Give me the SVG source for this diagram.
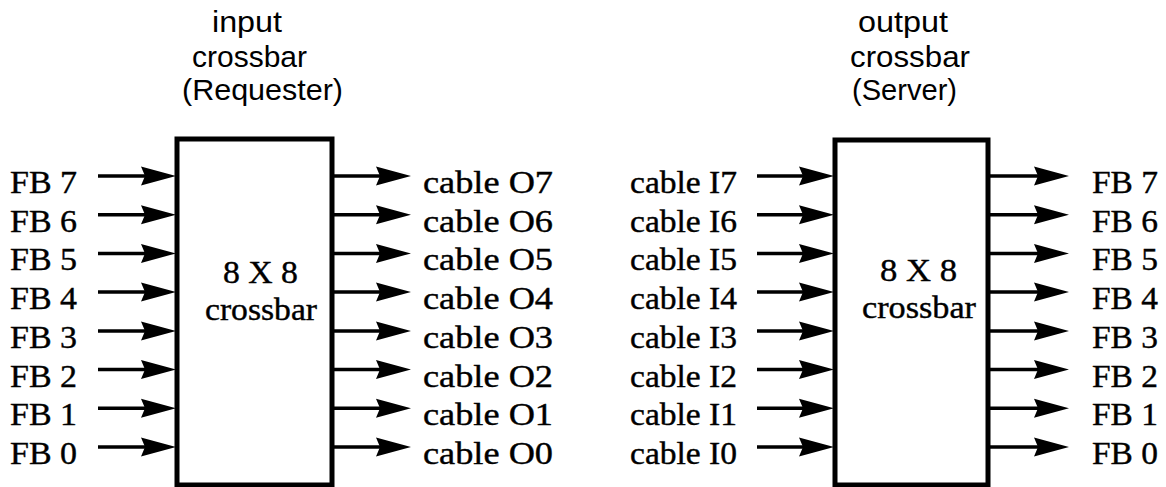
<svg xmlns="http://www.w3.org/2000/svg" width="1166" height="487" viewBox="0 0 1166 487">
<style>
.box{fill:#fff;stroke:#000;stroke-width:5}
.wire{stroke:#000;stroke-width:3.5;fill:none}
.serif{font-family:"Liberation Serif","Times New Roman",serif;font-size:32px;fill:#000;stroke:#000;stroke-width:0.4}
.sans{font-family:"Liberation Sans",Arial,sans-serif;font-size:29px;fill:#000}
</style>
<defs>
<marker id="ah" markerUnits="userSpaceOnUse" markerWidth="44" markerHeight="24" viewBox="-26 -12 44 24" refX="0" refY="0" orient="auto">
<path d="M15,0 L-20,-9.5 L-16,0 L-20,9.5 Z" fill="#000"/>
</marker>
</defs>
<rect width="1166" height="487" fill="#fff"/>

<g id="input-crossbar">
<rect class="box" x="177" y="139" width="155" height="346"/>
<text class="serif" x="223" y="283" textLength="75" lengthAdjust="spacingAndGlyphs">8 X 8</text>
<text class="serif" x="205" y="320" textLength="112" lengthAdjust="spacingAndGlyphs">crossbar</text>
</g>
<g id="input-title">
<text class="sans" x="212" y="32" textLength="70" lengthAdjust="spacingAndGlyphs">input</text>
<text class="sans" x="192" y="67" textLength="115" lengthAdjust="spacingAndGlyphs">crossbar</text>
<text class="sans" x="182" y="100" textLength="161" lengthAdjust="spacingAndGlyphs">(Requester)</text>
</g>

<g id="output-crossbar">
<rect class="box" x="835" y="140" width="153" height="345"/>
<text class="serif" x="880" y="281" textLength="77" lengthAdjust="spacingAndGlyphs">8 X 8</text>
<text class="serif" x="862" y="318" textLength="114" lengthAdjust="spacingAndGlyphs">crossbar</text>
</g>
<g id="output-title">
<text class="sans" x="858" y="32" textLength="90" lengthAdjust="spacingAndGlyphs">output</text>
<text class="sans" x="850" y="67" textLength="120" lengthAdjust="spacingAndGlyphs">crossbar</text>
<text class="sans" x="852" y="100" textLength="105" lengthAdjust="spacingAndGlyphs">(Server)</text>
</g>

<g id="fb-in-labels">
<text class="serif" x="10" y="193" textLength="67" lengthAdjust="spacingAndGlyphs">FB 7</text>
<text class="serif" x="10" y="231.7" textLength="67" lengthAdjust="spacingAndGlyphs">FB 6</text>
<text class="serif" x="10" y="270.4" textLength="67" lengthAdjust="spacingAndGlyphs">FB 5</text>
<text class="serif" x="10" y="309.1" textLength="67" lengthAdjust="spacingAndGlyphs">FB 4</text>
<text class="serif" x="10" y="347.9" textLength="67" lengthAdjust="spacingAndGlyphs">FB 3</text>
<text class="serif" x="10" y="386.6" textLength="67" lengthAdjust="spacingAndGlyphs">FB 2</text>
<text class="serif" x="10" y="425.3" textLength="67" lengthAdjust="spacingAndGlyphs">FB 1</text>
<text class="serif" x="10" y="464" textLength="67" lengthAdjust="spacingAndGlyphs">FB 0</text>
</g>
<g id="cable-o-labels">
<text class="serif" x="423" y="193" textLength="130" lengthAdjust="spacingAndGlyphs">cable O7</text>
<text class="serif" x="423" y="231.7" textLength="130" lengthAdjust="spacingAndGlyphs">cable O6</text>
<text class="serif" x="423" y="270.4" textLength="130" lengthAdjust="spacingAndGlyphs">cable O5</text>
<text class="serif" x="423" y="309.1" textLength="130" lengthAdjust="spacingAndGlyphs">cable O4</text>
<text class="serif" x="423" y="347.9" textLength="130" lengthAdjust="spacingAndGlyphs">cable O3</text>
<text class="serif" x="423" y="386.6" textLength="130" lengthAdjust="spacingAndGlyphs">cable O2</text>
<text class="serif" x="423" y="425.3" textLength="130" lengthAdjust="spacingAndGlyphs">cable O1</text>
<text class="serif" x="423" y="464" textLength="130" lengthAdjust="spacingAndGlyphs">cable O0</text>
</g>
<g id="cable-i-labels">
<text class="serif" x="630" y="193" textLength="107" lengthAdjust="spacingAndGlyphs">cable I7</text>
<text class="serif" x="630" y="231.7" textLength="107" lengthAdjust="spacingAndGlyphs">cable I6</text>
<text class="serif" x="630" y="270.4" textLength="107" lengthAdjust="spacingAndGlyphs">cable I5</text>
<text class="serif" x="630" y="309.1" textLength="107" lengthAdjust="spacingAndGlyphs">cable I4</text>
<text class="serif" x="630" y="347.9" textLength="107" lengthAdjust="spacingAndGlyphs">cable I3</text>
<text class="serif" x="630" y="386.6" textLength="107" lengthAdjust="spacingAndGlyphs">cable I2</text>
<text class="serif" x="630" y="425.3" textLength="107" lengthAdjust="spacingAndGlyphs">cable I1</text>
<text class="serif" x="630" y="464" textLength="107" lengthAdjust="spacingAndGlyphs">cable I0</text>
</g>
<g id="fb-out-labels">
<text class="serif" x="1092" y="193" textLength="66" lengthAdjust="spacingAndGlyphs">FB 7</text>
<text class="serif" x="1092" y="231.7" textLength="66" lengthAdjust="spacingAndGlyphs">FB 6</text>
<text class="serif" x="1092" y="270.4" textLength="66" lengthAdjust="spacingAndGlyphs">FB 5</text>
<text class="serif" x="1092" y="309.1" textLength="66" lengthAdjust="spacingAndGlyphs">FB 4</text>
<text class="serif" x="1092" y="347.9" textLength="66" lengthAdjust="spacingAndGlyphs">FB 3</text>
<text class="serif" x="1092" y="386.6" textLength="66" lengthAdjust="spacingAndGlyphs">FB 2</text>
<text class="serif" x="1092" y="425.3" textLength="66" lengthAdjust="spacingAndGlyphs">FB 1</text>
<text class="serif" x="1092" y="464" textLength="66" lengthAdjust="spacingAndGlyphs">FB 0</text>
</g>

<g id="connectors" class="wire">
<path marker-end="url(#ah)" d="M98,176 H161"/>
<path marker-end="url(#ah)" d="M98,214.7 H161"/>
<path marker-end="url(#ah)" d="M98,253.4 H161"/>
<path marker-end="url(#ah)" d="M98,292.1 H161"/>
<path marker-end="url(#ah)" d="M98,330.9 H161"/>
<path marker-end="url(#ah)" d="M98,369.6 H161"/>
<path marker-end="url(#ah)" d="M98,408.3 H161"/>
<path marker-end="url(#ah)" d="M98,447 H161"/>

<path marker-end="url(#ah)" d="M334,176 H396"/>
<path marker-end="url(#ah)" d="M334,214.7 H396"/>
<path marker-end="url(#ah)" d="M334,253.4 H396"/>
<path marker-end="url(#ah)" d="M334,292.1 H396"/>
<path marker-end="url(#ah)" d="M334,330.9 H396"/>
<path marker-end="url(#ah)" d="M334,369.6 H396"/>
<path marker-end="url(#ah)" d="M334,408.3 H396"/>
<path marker-end="url(#ah)" d="M334,447 H396"/>

<path marker-end="url(#ah)" d="M757,176 H819"/>
<path marker-end="url(#ah)" d="M757,214.7 H819"/>
<path marker-end="url(#ah)" d="M757,253.4 H819"/>
<path marker-end="url(#ah)" d="M757,292.1 H819"/>
<path marker-end="url(#ah)" d="M757,330.9 H819"/>
<path marker-end="url(#ah)" d="M757,369.6 H819"/>
<path marker-end="url(#ah)" d="M757,408.3 H819"/>
<path marker-end="url(#ah)" d="M757,447 H819"/>

<path marker-end="url(#ah)" d="M990,176 H1054"/>
<path marker-end="url(#ah)" d="M990,214.7 H1054"/>
<path marker-end="url(#ah)" d="M990,253.4 H1054"/>
<path marker-end="url(#ah)" d="M990,292.1 H1054"/>
<path marker-end="url(#ah)" d="M990,330.9 H1054"/>
<path marker-end="url(#ah)" d="M990,369.6 H1054"/>
<path marker-end="url(#ah)" d="M990,408.3 H1054"/>
<path marker-end="url(#ah)" d="M990,447 H1054"/>
</g>
</svg>
